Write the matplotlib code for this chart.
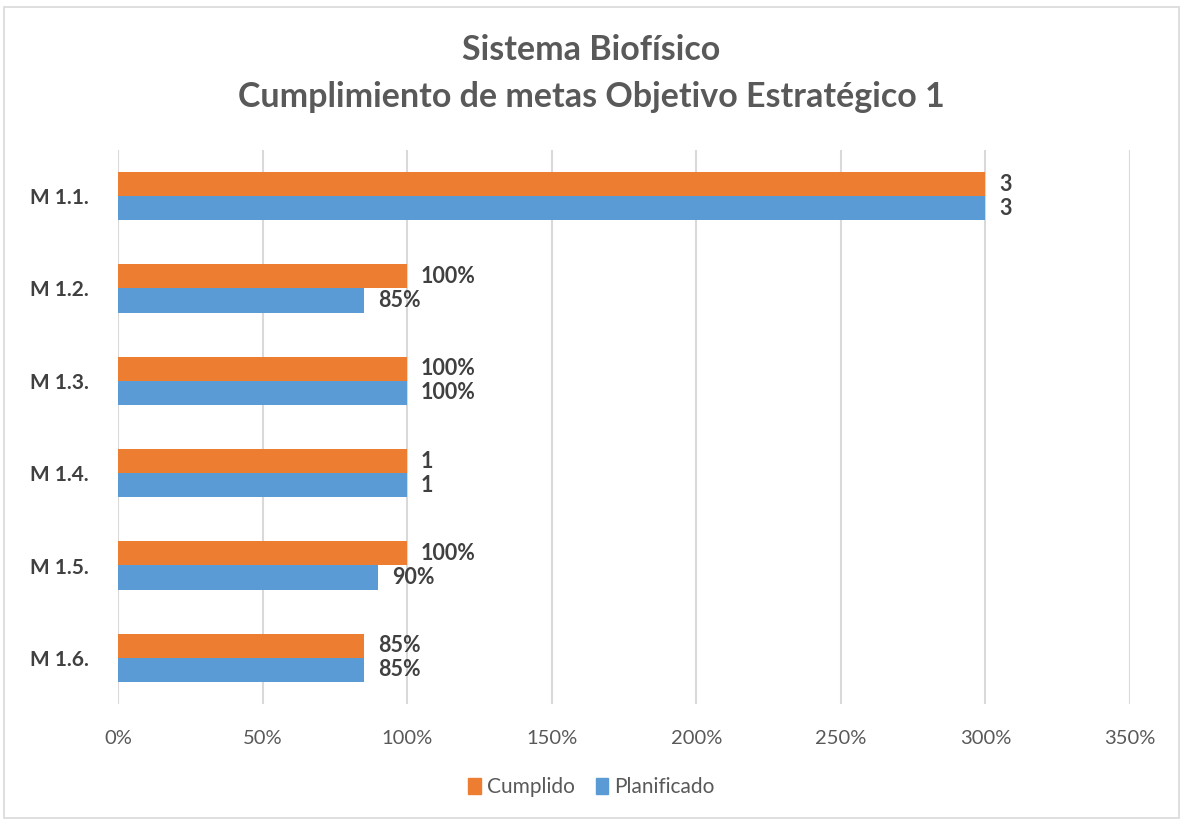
import matplotlib
matplotlib.use("Agg")
import matplotlib.pyplot as plt
from matplotlib.patches import Rectangle

categories = ["M 1.1.", "M 1.2.", "M 1.3.", "M 1.4.", "M 1.5.", "M 1.6."]
cumplido = [3.00, 1.00, 1.00, 1.00, 1.00, 0.85]
planificado = [3.00, 0.85, 1.00, 1.00, 0.90, 0.85]
cumplido_labels = ["3", "100%", "100%", "1", "100%", "85%"]
planificado_labels = ["3", "85%", "100%", "1", "90%", "85%"]
xticks = [0, 0.5, 1.0, 1.5, 2.0, 2.5, 3.0, 3.5]
xtick_labels = ["0%", "50%", "100%", "150%", "200%", "250%", "300%", "350%"]

plt.rcParams['font.family'] = ['Lato', 'DejaVu Sans']

W, H = 1183, 821
fig = plt.figure(figsize=(W / 100, H / 100), dpi=100)
ax = fig.add_axes([118 / W, 1 - 704 / H, (1130 - 118) / W, (704 - 150) / H])

orange = "#ED7D31"
blue = "#5B9BD5"
n = len(categories)
ypos = list(range(n))
h = 0.26

for i in ypos:
    ax.barh(i - h / 2, cumplido[i], height=h, color=orange, zorder=3)
    ax.barh(i + h / 2, planificado[i], height=h, color=blue, zorder=3)
    ax.annotate(cumplido_labels[i], (cumplido[i], i - h / 2), xytext=(10, 0),
                textcoords="offset points", va="center", ha="left",
                fontsize=15.5, fontweight="bold", color="#404040")
    ax.annotate(planificado_labels[i], (planificado[i], i + h / 2), xytext=(10, 0),
                textcoords="offset points", va="center", ha="left",
                fontsize=15.5, fontweight="bold", color="#404040")

ax.set_ylim(n - 0.5, -0.5)
ax.set_xlim(0, 3.5)
ax.set_yticks(ypos)
ax.set_yticklabels(categories, fontsize=15, fontweight="bold", color="#404040")
ax.set_xticks(xticks)
ax.set_xticklabels(xtick_labels, fontsize=14.5, color="#595959")
ax.tick_params(axis="both", length=0)
ax.tick_params(axis="x", pad=19)
ax.tick_params(axis="y", pad=21)
ax.xaxis.grid(True, color="#D9D9D9", linewidth=1.5, zorder=0)
for s in ax.spines.values():
    s.set_visible(False)

fig.text(0.5, 1 - 50 / H, "Sistema Biofísico", ha="center", va="center",
         fontsize=24.5, fontweight="bold", color="#595959")
fig.text(0.5, 1 - 97 / H, "Cumplimiento de metas Objetivo Estratégico 1", ha="center",
         va="center", fontsize=24.5, fontweight="bold", color="#595959")

handles = [Rectangle((0, 0), 1, 1, color=orange), Rectangle((0, 0), 1, 1, color=blue)]
fig.legend(handles, ["Cumplido", "Planificado"], loc="center",
           bbox_to_anchor=(0.5, 1 - 787 / H), ncol=2, frameon=False,
           fontsize=15, labelcolor="#595959", handlelength=0.6, handleheight=0.8,
           handletextpad=0.3, columnspacing=1.0)

fig.add_artist(Rectangle((4 / W, 3 / H), (W - 8) / W, (H - 10) / H,
                         transform=fig.transFigure, fill=False,
                         edgecolor="#D9D9D9", linewidth=1.2))

fig.savefig("out.png", dpi=100)
